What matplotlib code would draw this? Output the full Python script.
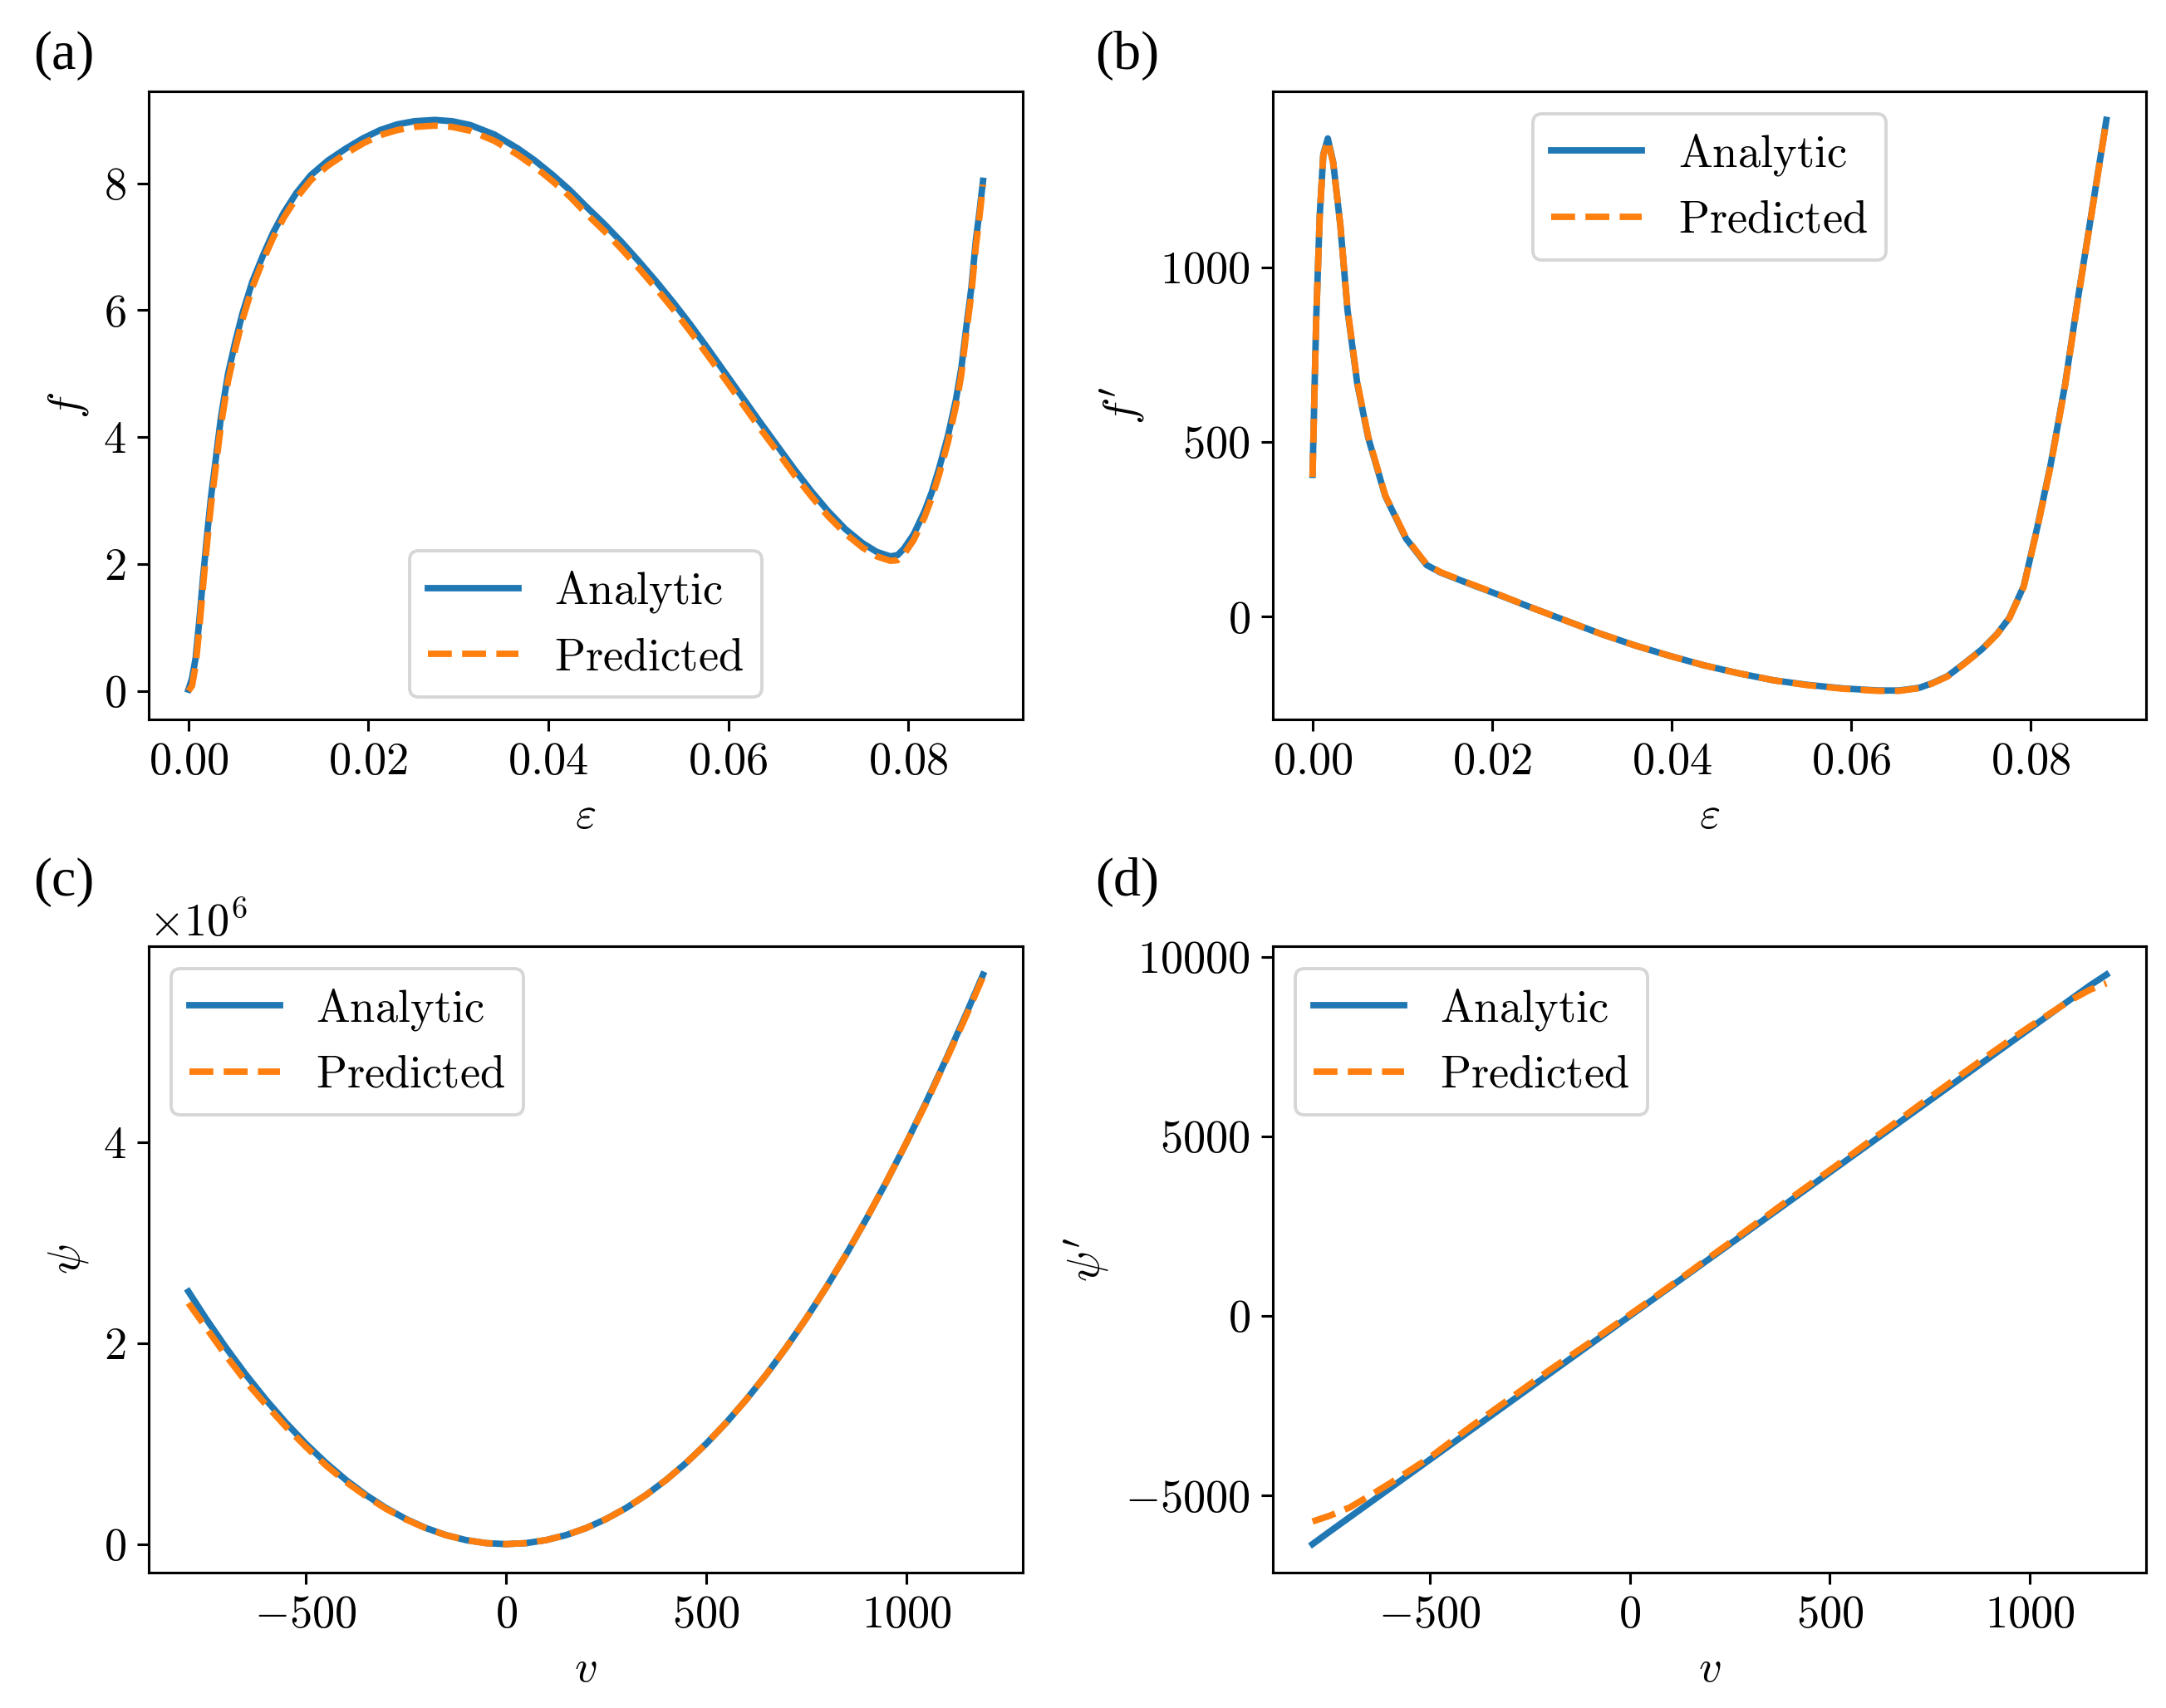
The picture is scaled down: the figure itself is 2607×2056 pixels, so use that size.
import matplotlib
matplotlib.use("Agg")
import matplotlib.pyplot as plt

plt.rcParams.update({
    "font.family": "serif",
    "font.serif": ["cmr10", "DejaVu Serif"],
    "mathtext.fontset": "cm",
    "axes.formatter.use_mathtext": True,
    "axes.unicode_minus": True,
    "font.size": 14,
})

# ---- Panel (a): f vs strain ----
eps_f = [0.0000, 0.0004, 0.0008, 0.0012, 0.0016, 0.0021, 0.0025, 0.0029, 0.0036,
         0.0044, 0.0052, 0.0060, 0.0071, 0.0083, 0.0094, 0.0106, 0.0120, 0.0136,
         0.0155, 0.0175, 0.0194, 0.0213, 0.0232, 0.0251, 0.0274, 0.0293, 0.0313,
         0.0340, 0.0366, 0.0385, 0.0405, 0.0424, 0.0443, 0.0462, 0.0481, 0.0500,
         0.0520, 0.0539, 0.0558, 0.0577, 0.0596, 0.0615, 0.0634, 0.0654, 0.0673,
         0.0692, 0.0711, 0.0730, 0.0749, 0.0765, 0.0780, 0.0788, 0.0795, 0.0806,
         0.0818, 0.0826, 0.0834, 0.0844, 0.0853, 0.0859, 0.0864, 0.0870, 0.0875,
         0.0879, 0.0883]
f_analytic = [0.02, 0.20, 0.52, 1.10, 1.75, 2.50, 3.05, 3.50, 4.30,
              5.00, 5.50, 5.95, 6.45, 6.87, 7.22, 7.54, 7.85, 8.13,
              8.36, 8.55, 8.71, 8.84, 8.93, 8.98, 9.00, 8.98, 8.92,
              8.77, 8.55, 8.36, 8.13, 7.89, 7.62, 7.36, 7.08, 6.78,
              6.45, 6.12, 5.77, 5.40, 5.02, 4.64, 4.26, 3.87, 3.50,
              3.15, 2.83, 2.55, 2.33, 2.19, 2.12, 2.14, 2.24, 2.47,
              2.83, 3.13, 3.50, 4.02, 4.60, 5.10, 5.69, 6.35, 7.10,
              7.55, 8.04]
f_predicted = [0.00, 0.08, 0.40, 0.97, 1.62, 2.37, 2.92, 3.37, 4.18,
               4.88, 5.39, 5.85, 6.36, 6.79, 7.14, 7.46, 7.77, 8.05,
               8.28, 8.47, 8.63, 8.76, 8.84, 8.89, 8.91, 8.89, 8.83,
               8.67, 8.45, 8.26, 8.03, 7.79, 7.51, 7.25, 6.97, 6.67,
               6.34, 6.01, 5.66, 5.29, 4.92, 4.54, 4.16, 3.78, 3.41,
               3.07, 2.75, 2.48, 2.26, 2.12, 2.05, 2.06, 2.15, 2.38,
               2.74, 3.04, 3.40, 3.92, 4.50, 5.00, 5.60, 6.26, 7.00,
               7.47, 7.98]

# ---- Panel (b): f' vs strain ----
eps_df = [0.0000, 0.0004, 0.0008, 0.0012, 0.0017, 0.0023, 0.0031, 0.0039, 0.0050,
          0.0062, 0.0081, 0.0104, 0.0127, 0.0143, 0.0174, 0.0205, 0.0243, 0.0282,
          0.0320, 0.0359, 0.0398, 0.0436, 0.0475, 0.0514, 0.0552, 0.0591, 0.0630,
          0.0653, 0.0676, 0.0690, 0.0707, 0.0725, 0.0745, 0.0762, 0.0776, 0.0792,
          0.0807, 0.0822, 0.0838, 0.0853, 0.0869, 0.0884]
df_analytic = [406, 845, 1148, 1323, 1368, 1300, 1118, 876, 664,
               512, 345, 224, 148, 126, 95, 65, 27, -11,
               -48, -82, -112, -139, -162, -182, -195, -205, -211,
               -211, -203, -190, -170, -135, -94, -50, -3, 88,
               255, 436, 664, 921, 1179, 1421]
df_predicted = [400, 840, 1145, 1320, 1362, 1298, 1120, 880, 668,
                515, 347, 226, 150, 127, 96, 66, 27, -11,
                -48, -82, -112, -139, -162, -182, -196, -206, -212,
                -212, -204, -191, -171, -136, -95, -51, -4, 86,
                252, 432, 660, 918, 1176, 1418]

# ---- Panels (c), (d): psi and psi' vs v ----
v = [-793, -750, -700, -650, -600, -550, -500, -450, -400, -350, -300, -250,
     -200, -150, -100, -50, 0, 50, 100, 150, 200, 250, 300, 350, 400, 450,
     500, 550, 600, 650, 700, 750, 800, 850, 900, 950, 1000, 1050, 1100,
     1150, 1191]
psi_analytic = [2.515, 2.25, 1.96, 1.69, 1.44, 1.21, 1.00, 0.81, 0.64, 0.49, 0.36, 0.25,
                0.16, 0.09, 0.04, 0.01, 0.0, 0.01, 0.04, 0.09, 0.16, 0.25, 0.36, 0.49, 0.64, 0.81,
                1.00, 1.21, 1.44, 1.69, 1.96, 2.25, 2.56, 2.89, 3.24, 3.61, 4.00, 4.41, 4.84,
                5.29, 5.67]
psi_predicted = [2.40, 2.16, 1.88, 1.62, 1.39, 1.17, 0.97, 0.785, 0.62, 0.478, 0.352, 0.246,
                 0.158, 0.089, 0.04, 0.01, 0.0, 0.01, 0.04, 0.09, 0.16, 0.25, 0.36, 0.49, 0.64, 0.81,
                 1.00, 1.21, 1.44, 1.69, 1.96, 2.25, 2.56, 2.89, 3.24, 3.61, 4.00, 4.40, 4.83,
                 5.27, 5.65]
dpsi_analytic = [-6350, -6000, -5600, -5200, -4800, -4400, -4000, -3600, -3200, -2800, -2400, -2000,
                 -1600, -1200, -800, -400, 0, 400, 800, 1200, 1600, 2000, 2400, 2800, 3200, 3600,
                 4000, 4400, 4800, 5200, 5600, 6000, 6400, 6800, 7200, 7600, 8000, 8400, 8800,
                 9200, 9500]
dpsi_predicted = [-5720, -5560, -5330, -5000, -4660, -4300, -3940, -3520, -3100, -2700, -2300, -1900,
                  -1500, -1120, -740, -350, 40, 430, 830, 1230, 1640, 2040, 2450, 2850, 3260, 3660,
                  4060, 4460, 4870, 5270, 5680, 6090, 6490, 6890, 7290, 7680, 8060, 8420, 8780,
                  9080, 9260]

labels = [r"$\mathrm{Analytic}$", r"$\mathrm{Predicted}$"]

W, H = 2607, 2056
DPI = 280
fig = plt.figure(figsize=(W / DPI, H / DPI), dpi=DPI)

def rect(x0, y0, x1, y1):
    return [x0 / W, 1 - y1 / H, (x1 - x0) / W, (y1 - y0) / H]

ax_a = fig.add_axes(rect(179, 110, 1231, 866))
ax_b = fig.add_axes(rect(1532, 110, 2583, 866))
ax_c = fig.add_axes(rect(179, 1139, 1231, 1893))
ax_d = fig.add_axes(rect(1532, 1139, 2583, 1893))

lw = 2
def draw(ax, x, ya, yp, xl, yl, loc):
    ax.plot(x, ya, color="#1f77b4", lw=lw, label=labels[0])
    ax.plot(x, yp, color="#ff7f0e", lw=lw, ls="--", label=labels[1])
    ax.set_xlabel(xl)
    ax.set_ylabel(yl)
    ax.legend(loc=loc)

draw(ax_a, eps_f, f_analytic, f_predicted, r"$\varepsilon$", r"$f$", "lower center")
draw(ax_b, eps_df, df_analytic, df_predicted, r"$\varepsilon$", r"$f'$", "upper center")
psi_a = [p * 1e6 for p in psi_analytic]
psi_p = [p * 1e6 for p in psi_predicted]
draw(ax_c, v, psi_a, psi_p, r"$v$", r"$\psi$", "upper left")
draw(ax_d, v, dpsi_analytic, dpsi_predicted, r"$v$", r"$\psi'$", "upper left")

for ax in (ax_a, ax_b):
    ax.set_xticks([0.0, 0.02, 0.04, 0.06, 0.08])
ax_b.set_yticks([0, 500, 1000])
ax_d.set_yticks([-5000, 0, 5000, 10000])

panel_font = ["Liberation Serif", "DejaVu Serif"]
for txt, x, y in [("(a)", 40, 67), ("(b)", 1318, 67), ("(c)", 40, 1062), ("(d)", 1318, 1062)]:
    fig.text(x / W, 1 - y / H, txt, family=panel_font, fontsize=17, ha="left", va="center")

fig.savefig("out.png", dpi=DPI)
